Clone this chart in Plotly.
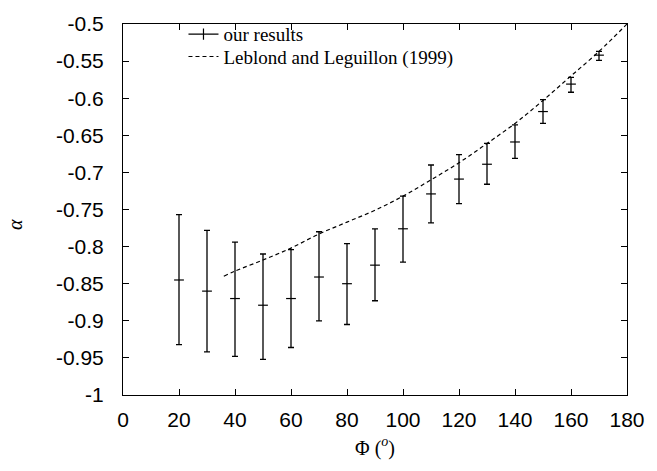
import plotly.graph_objects as go

# Angle Phi (degrees) and computed singularity exponent alpha with error-bar bounds
phi = [20, 30, 40, 50, 60, 70, 80, 90, 100, 110, 120, 130, 140, 150, 160, 170]
alpha = [-0.845, -0.860, -0.870, -0.879, -0.870, -0.841, -0.850, -0.825,
         -0.776, -0.729, -0.709, -0.689, -0.659, -0.618, -0.581, -0.542]
alpha_hi = [-0.757, -0.778, -0.794, -0.810, -0.804, -0.780, -0.796, -0.776,
            -0.732, -0.690, -0.676, -0.661, -0.636, -0.602, -0.572, -0.537]
alpha_lo = [-0.932, -0.942, -0.948, -0.952, -0.936, -0.900, -0.905, -0.873,
            -0.821, -0.768, -0.742, -0.716, -0.681, -0.634, -0.592, -0.549]

# Leblond and Leguillon (1999) reference curve
ref_phi = [36, 40, 50, 60, 70, 80, 90, 100, 110, 120, 130, 140, 150, 160, 170, 180]
ref_alpha = [-0.840, -0.833, -0.818, -0.802, -0.783, -0.767, -0.751, -0.732,
             -0.710, -0.687, -0.661, -0.634, -0.603, -0.570, -0.537, -0.500]

x_ticks = [0, 20, 40, 60, 80, 100, 120, 140, 160, 180]
y_ticks = [-1.0, -0.95, -0.9, -0.85, -0.8, -0.75, -0.7, -0.65, -0.6, -0.55, -0.5]
y_tick_text = ["-1", "-0.95", "-0.9", "-0.85", "-0.8", "-0.75", "-0.7",
               "-0.65", "-0.6", "-0.55", "-0.5"]

err_plus = [h - a for h, a in zip(alpha_hi, alpha)]
err_minus = [a - l for a, l in zip(alpha, alpha_lo)]

SERIF = "Liberation Serif, Times New Roman, serif"
SANS = "Liberation Sans, Arial, sans-serif"

fig = go.Figure()

# legend entry for the error-bar series
fig.add_trace(go.Scatter(
    x=[None], y=[None], mode="lines+markers", name="our results",
    legend="legend",
    line=dict(color="black", width=1.2),
    marker=dict(symbol="line-ns", size=8, line=dict(color="black", width=1.2)),
))

fig.add_trace(go.Scatter(
    x=phi, y=alpha, mode="markers", showlegend=False,
    marker=dict(symbol="line-ew", size=7, color="black",
                line=dict(color="black", width=1.2)),
    error_y=dict(type="data", symmetric=False, array=err_plus,
                 arrayminus=err_minus, color="black", thickness=1.3, width=3),
))

fig.add_trace(go.Scatter(
    x=ref_phi, y=ref_alpha, mode="lines", name="Leblond and Leguillon (1999)",
    legend="legend2",
    line=dict(color="black", width=1.2, dash="4px,3px", shape="spline"),
))

axis_common = dict(
    showline=True, linecolor="black", linewidth=1, mirror="allticks",
    ticks="inside", ticklen=6, tickcolor="black", tickwidth=1,
    showgrid=False, zeroline=False,
    tickfont=dict(family=SANS, size=21, color="black"),
)

legend_common = dict(
    x=0.12, xanchor="left", yanchor="middle",
    bgcolor="rgba(0,0,0,0)", borderwidth=0,
    font=dict(family=SERIF, size=19, color="black"),
)

fig.update_layout(
    width=657, height=471,
    margin=dict(l=123, r=24, t=13, b=76),
    paper_bgcolor="white", plot_bgcolor="white",
    xaxis=dict(range=[0, 180], tickvals=x_ticks, ticklabelstandoff=6,
               title=dict(text="Φ (<sup><i>o</i></sup>)", standoff=10,
                          font=dict(family=SERIF, size=20, color="black")),
               **axis_common),
    yaxis=dict(range=[-1, -0.5], tickvals=y_ticks, ticktext=y_tick_text,
               ticklabelstandoff=14, **axis_common),
    legend=dict(y=0.9725, **legend_common),
    legend2=dict(y=0.912, **legend_common),
    annotations=[dict(
        text="<i>α</i>", xref="paper", yref="paper",
        x=-0.213, y=0.46, xanchor="center", yanchor="middle",
        textangle=-90, showarrow=False,
        font=dict(family=SERIF, size=20, color="black"),
    )],
)

fig.write_html("out.html")
